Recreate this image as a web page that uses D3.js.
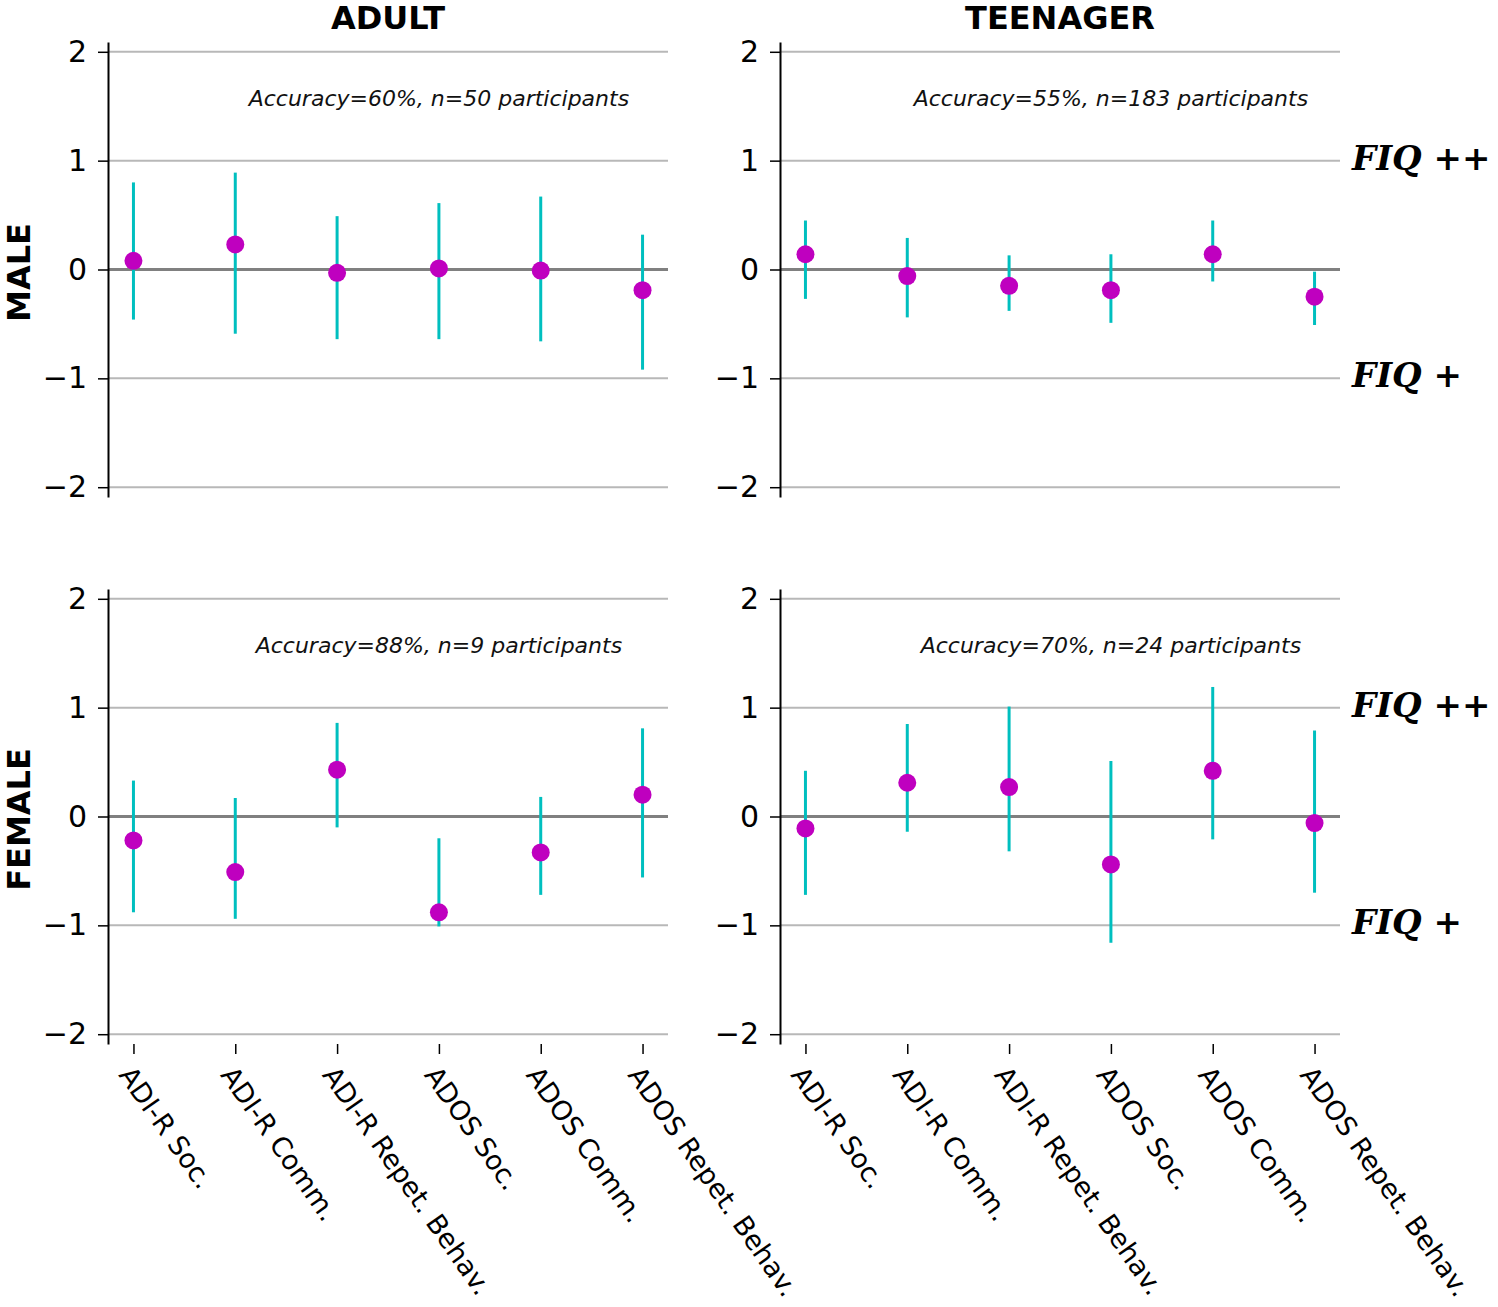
<!DOCTYPE html>
<html>
<head>
<meta charset="utf-8">
<script src="https://cdn.jsdelivr.net/npm/d3@7"></script>
<style>
  body { margin: 0; background: #fff; }
</style>
</head>
<body>
<div class="canvas"></div>
<script>
const measures = [
  "ADI-R Soc.",
  "ADI-R Comm.",
  "ADI-R Repet. Behav.",
  "ADOS Soc.",
  "ADOS Comm.",
  "ADOS Repet. Behav."
];
const colTitles = ["ADULT", "TEENAGER"];
const rowTitles = ["MALE", "FEMALE"];
const yTicks = [-2, -1, 0, 1, 2];

// point estimate and interval ends, one array per panel
const adultMaleMean = [0.08, 0.23, -0.03, 0.01, -0.01, -0.19];
const adultMaleLow = [-0.46, -0.59, -0.64, -0.64, -0.66, -0.92];
const adultMaleHigh = [0.8, 0.89, 0.49, 0.61, 0.67, 0.32];

const teenMaleMean = [0.14, -0.06, -0.15, -0.19, 0.14, -0.25];
const teenMaleLow = [-0.27, -0.44, -0.38, -0.49, -0.11, -0.51];
const teenMaleHigh = [0.45, 0.29, 0.13, 0.14, 0.45, -0.02];

const adultFemaleMean = [-0.22, -0.51, 0.43, -0.88, -0.33, 0.2];
const adultFemaleLow = [-0.88, -0.94, -0.1, -1.01, -0.72, -0.56];
const adultFemaleHigh = [0.33, 0.17, 0.86, -0.2, 0.18, 0.81];

const teenFemaleMean = [-0.11, 0.31, 0.27, -0.44, 0.42, -0.06];
const teenFemaleLow = [-0.72, -0.14, -0.32, -1.16, -0.21, -0.7];
const teenFemaleHigh = [0.42, 0.85, 1.01, 0.51, 1.19, 0.79];

const accuracyNotes = [
  "Accuracy=60%, n=50 participants",
  "Accuracy=55%, n=183 participants",
  "Accuracy=88%, n=9 participants",
  "Accuracy=70%, n=24 participants"
];
const fiqLabels = ["FIQ ++", "FIQ +"];
const fiqLevels = [1, -1];

const svgWidth = 1498;
const svgHeight = 1307;
const gWidth = 560;
const gHeight = 455;
const colLeft = [108, 780];
const rowTop = [42, 589];

const panels = [
  { row: 0, col: 0, mean: adultMaleMean, low: adultMaleLow, high: adultMaleHigh, note: accuracyNotes[0] },
  { row: 0, col: 1, mean: teenMaleMean, low: teenMaleLow, high: teenMaleHigh, note: accuracyNotes[1] },
  { row: 1, col: 0, mean: adultFemaleMean, low: adultFemaleLow, high: adultFemaleHigh, note: accuracyNotes[2] },
  { row: 1, col: 1, mean: teenFemaleMean, low: teenFemaleLow, high: teenFemaleHigh, note: accuracyNotes[3] }
];

const svg = d3
  .select(".canvas")
  .append("svg")
  .attr("width", svgWidth)
  .attr("height", svgHeight)
  .style("display", "block")
  .style("font-family", "'DejaVu Sans', sans-serif");

const x = d3.scalePoint().domain(measures).range([0, gWidth]).padding(0.25);
const y = d3.scaleLinear().domain([-2.09, 2.09]).range([gHeight, 0]);

panels.forEach(p => {
  const g = svg
    .append("g")
    .attr("transform", `translate(${colLeft[p.col]}, ${rowTop[p.row]})`);

  // horizontal grid, zero line darker
  g.selectAll(".grid")
    .data(yTicks)
    .enter()
    .append("line")
    .attr("x1", 0)
    .attr("x2", gWidth)
    .attr("y1", d => y(d))
    .attr("y2", d => y(d))
    .attr("stroke", d => (d === 0 ? "#808080" : "#b8b8b8"))
    .attr("stroke-width", d => (d === 0 ? 3 : 2));

  const rows = measures.map((m, i) => ({ m, mean: p.mean[i], low: p.low[i], high: p.high[i] }));

  g.selectAll(".err")
    .data(rows)
    .enter()
    .append("line")
    .attr("x1", d => x(d.m))
    .attr("x2", d => x(d.m))
    .attr("y1", d => y(d.low))
    .attr("y2", d => y(d.high))
    .attr("stroke", "#00bfbf")
    .attr("stroke-width", 3);

  g.selectAll(".dot")
    .data(rows)
    .enter()
    .append("circle")
    .attr("cx", d => x(d.m))
    .attr("cy", d => y(d.mean))
    .attr("r", 9)
    .attr("fill", "#bf00bf");

  const yAxis = d3
    .axisLeft(y)
    .tickValues(yTicks)
    .tickFormat(d3.format("d"))
    .tickSize(10)
    .tickPadding(11)
    .tickSizeOuter(0);
  const yAxisGroup = g.append("g").call(yAxis);
  yAxisGroup.select(".domain").attr("stroke", "#000").attr("stroke-width", 2);
  yAxisGroup.selectAll(".tick line").attr("stroke", "#000").attr("stroke-width", 1.5);
  yAxisGroup
    .selectAll(".tick text")
    .style("font-size", "30px")
    .style("font-family", "'DejaVu Sans'")
    .attr("fill", "#000");

  g.append("text")
    .attr("x", x(measures[3]))
    .attr("y", y(1.5))
    .attr("text-anchor", "middle")
    .style("font-size", "22px")
    .style("font-style", "italic")
    .attr("fill", "#111")
    .text(p.note);

  if (p.row === 1) {
    const xAxis = d3.axisBottom(x).tickSize(10).tickSizeOuter(0);
    const xAxisGroup = g
      .append("g")
      .attr("transform", `translate(0, ${gHeight})`)
      .call(xAxis);
    xAxisGroup.select(".domain").remove();
    xAxisGroup.selectAll(".tick line").attr("stroke", "#000").attr("stroke-width", 1.5);
    xAxisGroup
      .selectAll(".tick text")
      .style("font-size", "27px")
      .style("font-family", "'DejaVu Sans'")
      .attr("fill", "#000")
      .attr("text-anchor", "start")
      .attr("dy", null)
      .attr("y", 0)
      .attr("transform", "translate(-16, 31) rotate(55)");
  }

  if (p.col === 1) {
    g.selectAll(".fiq")
      .data(fiqLabels)
      .enter()
      .append("text")
      .attr("x", gWidth + 12)
      .attr("y", (d, i) => y(fiqLevels[i]) + 9)
      .style("font-family", "'DejaVu Serif', serif")
      .style("font-weight", "bold")
      .style("font-style", "italic")
      .style("font-size", "34px")
      .attr("fill", "#000")
      .text(d => d);
  }
});

colTitles.forEach((t, i) => {
  svg
    .append("text")
    .attr("x", colLeft[i] + gWidth / 2)
    .attr("y", 29)
    .attr("text-anchor", "middle")
    .style("font-size", "32px")
    .style("font-weight", "bold")
    .text(t);
});

rowTitles.forEach((t, i) => {
  const cy = rowTop[i] + gHeight / 2 + 3;
  svg
    .append("text")
    .attr("transform", `translate(30, ${cy}) rotate(-90)`)
    .attr("text-anchor", "middle")
    .style("font-size", "32px")
    .style("font-weight", "bold")
    .text(t);
});
</script>
</body>
</html>
